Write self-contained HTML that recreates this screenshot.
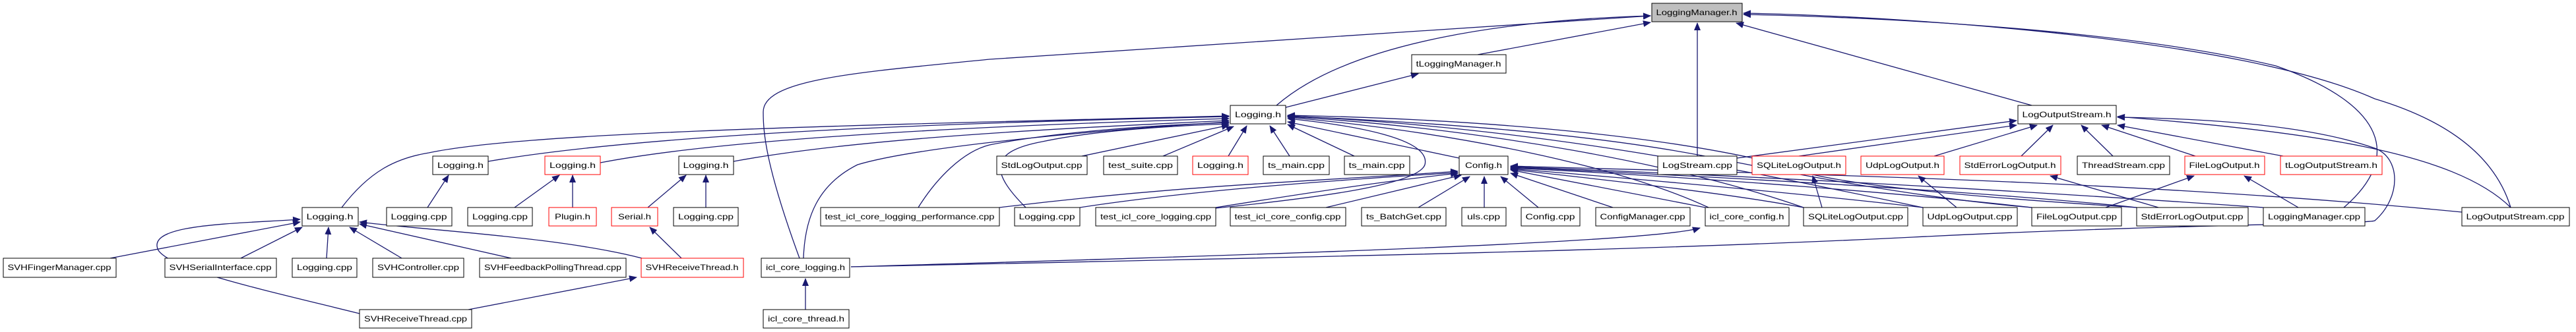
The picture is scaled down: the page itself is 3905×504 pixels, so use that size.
<!DOCTYPE html>
<html><head><meta charset="utf-8"><style>
html,body{margin:0;padding:0;background:#fff;}
svg{display:block}
text{font-family:"Liberation Sans",sans-serif;font-size:12px;text-anchor:middle}
.e{fill:none;stroke:#191970;stroke-width:1.3}
.b{fill:#fff;stroke:#000;stroke-width:1}
.r{fill:#fff;stroke:#ff0000;stroke-width:1}
</style></head><body>
<svg width="3905" height="504" viewBox="0 0 3905 504" xmlns="http://www.w3.org/2000/svg">
<defs><marker id="a" markerUnits="userSpaceOnUse" markerWidth="12" markerHeight="10" refX="11" refY="5" orient="auto"><path d="M0,0 L12,5 L0,10 z" fill="#191970"/></marker></defs>
<g class="e" marker-end="url(#a)">
<!-- to LoggingManager.h -->
<path d="M2240,83 L2502,34"/>
<path d="M1935,160 C2050,60 2300,30 2502,24"/>
<path d="M1212,392 C1160,250 1157,200 1157,170 C1157,120 1300,110 1500,90 L2502,24"/>
<path d="M3080,160 L2632,35"/>
<path d="M2573,237 L2573,35"/>
<path d="M3553,315 C3640,240 3620,160 3450,100 C3200,40 2800,25 2643,22"/>
<path d="M3806,315 C3780,230 3700,180 3600,150 C3400,60 2900,25 2643,20"/>
<!-- to tLoggingManager.h -->
<path d="M1949,163 L2150,112"/>
<!-- to LogOutputStream.h -->
<path d="M2633,240 L3057,183"/>
<path d="M2727,237 L3057,190"/>
<path d="M2932,237 L3088,190"/>
<path d="M3064,237 L3112,190"/>
<path d="M3203,237 L3155,190"/>
<path d="M3328,237 L3186,190"/>
<path d="M3461,237 L3210,190"/>
<path d="M3806,315 C3720,230 3500,200 3210,177"/>
<path d="M1290,405 C2000,390 2500,380 2900,360 C3300,340 3590,340 3600,335 C3640,300 3640,240 3600,225 C3500,190 3350,180 3210,178"/>
<!-- to Logging.h main -->
<path d="M518,315 C560,260 600,240 650,232 C800,200 1300,190 1863,176"/>
<path d="M740,245 C1000,200 1500,185 1863,177"/>
<path d="M910,247 C1100,210 1500,190 1863,180"/>
<path d="M1112,245 C1300,210 1600,195 1863,183"/>
<path d="M1218,392 C1220,330 1240,280 1300,250 C1400,220 1700,195 1863,185"/>
<path d="M1392,315 C1420,270 1460,230 1500,220 C1600,200 1750,190 1863,186"/>
<path d="M1555,315 C1500,260 1500,230 1580,215 C1650,200 1750,192 1863,188"/>
<path d="M1640,237 L1863,190"/>
<path d="M1763,237 L1870,192"/>
<path d="M1862,237 L1890,191"/>
<path d="M1955,237 L1925,191"/>
<path d="M2053,237 L1952,189"/>
<path d="M2212,240 L1952,185"/>
<path d="M1843,316 C2000,300 2150,280 2160,250 C2170,210 2050,190 1952,180"/>
<path d="M2590,315 C2450,250 2200,200 1952,178"/>
<path d="M2734,315 C2550,250 2250,195 1952,177"/>
<path d="M2915,315 C2650,260 2350,195 1952,176"/>
<path d="M3080,315 C2900,300 2700,260 2600,240 C2400,200 2150,185 1952,176"/>
<path d="M3239,315 C3000,300 2760,280 2700,250 C2500,200 2200,180 1952,175"/>
<!-- to Config.h -->
<path d="M1515,315 C1800,280 2000,275 2210,260"/>
<path d="M1637,315 C1800,290 2000,275 2210,262"/>
<path d="M1843,315 C2000,290 2100,275 2210,263"/>
<path d="M2010,315 L2215,266"/>
<path d="M2150,315 L2228,268"/>
<path d="M2250,315 L2250,268"/>
<path d="M2332,315 L2275,268"/>
<path d="M2445,315 L2290,263"/>
<path d="M2585,315 L2290,258"/>
<path d="M2734,315 C2600,290 2400,270 2290,257"/>
<path d="M2915,315 C2700,290 2400,265 2290,256"/>
<path d="M3080,315 C2900,295 2600,270 2290,255"/>
<path d="M3239,315 C3000,290 2600,268 2290,254"/>
<path d="M3431,315 C3000,285 2600,265 2290,253"/>
<path d="M3732,322 C3200,270 2600,262 2290,252"/>
<!-- misc -->
<path d="M1290,405 C1800,390 2500,370 2577,346"/>
<path d="M1221,470 L1221,423"/>
<path d="M2762,315 L2748,267"/>
<path d="M2966,315 L2908,267"/>
<path d="M3192,315 L3326,267"/>
<path d="M3272,315 L3108,267"/>
<path d="M3484,315 L3402,267"/>
<path d="M495,392 L498,345"/>
<path d="M167,392 L455,337"/>
<path d="M365,392 L458,345"/>
<path d="M609,392 L530,345"/>
<path d="M775,392 L545,340"/>
<path d="M973,392 C850,360 650,350 545,337"/>
<path d="M545,476 C400,440 260,410 240,380 C220,340 350,340 455,333"/>
<path d="M710,470 L965,421"/>
<path d="M1033,392 L985,345"/>
<path d="M648,315 L680,266"/>
<path d="M780,315 L848,266"/>
<path d="M868,315 L868,266"/>
<path d="M982,315 L1040,266"/>
<path d="M1070,315 L1070,266"/>
</g>
<!-- nodes -->
<rect x="2504" y="5" width="137" height="28" fill="#bfbfbf" stroke="#000"/><text x="2572" y="23" textLength="123" lengthAdjust="spacingAndGlyphs">LoggingManager.h</text>
<g>
<rect class="b" x="2140" y="83" width="143" height="28"/><text x="2211" y="101" textLength="129" lengthAdjust="spacingAndGlyphs">tLoggingManager.h</text>
<rect class="b" x="1865" y="160" width="84" height="28"/><text x="1907" y="178" textLength="70" lengthAdjust="spacingAndGlyphs">Logging.h</text>
<rect class="b" x="3059" y="160" width="149" height="28"/><text x="3133" y="178" textLength="135" lengthAdjust="spacingAndGlyphs">LogOutputStream.h</text>

<rect class="b" x="656" y="237" width="84" height="28"/><text x="698" y="255" textLength="70" lengthAdjust="spacingAndGlyphs">Logging.h</text>
<rect class="r" x="826" y="237" width="84" height="28"/><text x="868" y="255" textLength="70" lengthAdjust="spacingAndGlyphs">Logging.h</text>
<rect class="b" x="1029" y="237" width="83" height="28"/><text x="1070" y="255" textLength="69" lengthAdjust="spacingAndGlyphs">Logging.h</text>
<rect class="b" x="1511" y="237" width="137" height="28"/><text x="1579" y="255" textLength="123" lengthAdjust="spacingAndGlyphs">StdLogOutput.cpp</text>
<rect class="b" x="1673" y="237" width="112" height="28"/><text x="1729" y="255" textLength="98" lengthAdjust="spacingAndGlyphs">test_suite.cpp</text>
<rect class="r" x="1808" y="237" width="84" height="28"/><text x="1850" y="255" textLength="70" lengthAdjust="spacingAndGlyphs">Logging.h</text>
<rect class="b" x="1915" y="237" width="100" height="28"/><text x="1965" y="255" textLength="86" lengthAdjust="spacingAndGlyphs">ts_main.cpp</text>
<rect class="b" x="2038" y="237" width="99" height="28"/><text x="2087" y="255" textLength="85" lengthAdjust="spacingAndGlyphs">ts_main.cpp</text>
<rect class="b" x="2212" y="237" width="74" height="28"/><text x="2249" y="255" textLength="56" lengthAdjust="spacingAndGlyphs">Config.h</text>
<rect class="b" x="2513" y="237" width="120" height="28"/><text x="2573" y="255" textLength="106" lengthAdjust="spacingAndGlyphs">LogStream.cpp</text>
<rect class="r" x="2656" y="237" width="142" height="28"/><text x="2727" y="255" textLength="128" lengthAdjust="spacingAndGlyphs">SQLiteLogOutput.h</text>
<rect class="r" x="2821" y="237" width="126" height="28"/><text x="2884" y="255" textLength="112" lengthAdjust="spacingAndGlyphs">UdpLogOutput.h</text>
<rect class="r" x="2971" y="237" width="153" height="28"/><text x="3047" y="255" textLength="139" lengthAdjust="spacingAndGlyphs">StdErrorLogOutput.h</text>
<rect class="b" x="3149" y="237" width="140" height="28"/><text x="3219" y="255" textLength="126" lengthAdjust="spacingAndGlyphs">ThreadStream.cpp</text>
<rect class="r" x="3312" y="237" width="121" height="28"/><text x="3372" y="255" textLength="107" lengthAdjust="spacingAndGlyphs">FileLogOutput.h</text>
<rect class="r" x="3457" y="237" width="154" height="28"/><text x="3534" y="255" textLength="140" lengthAdjust="spacingAndGlyphs">tLogOutputStream.h</text>

<rect class="b" x="458" y="315" width="85" height="28"/><text x="500" y="333" textLength="71" lengthAdjust="spacingAndGlyphs">Logging.h</text>
<rect class="b" x="586" y="315" width="99" height="28"/><text x="635" y="333" textLength="85" lengthAdjust="spacingAndGlyphs">Logging.cpp</text>
<rect class="b" x="709" y="315" width="98" height="28"/><text x="758" y="333" textLength="84" lengthAdjust="spacingAndGlyphs">Logging.cpp</text>
<rect class="r" x="832" y="315" width="72" height="28"/><text x="868" y="333" textLength="54" lengthAdjust="spacingAndGlyphs">Plugin.h</text>
<rect class="r" x="927" y="315" width="70" height="28"/><text x="962" y="333" textLength="50" lengthAdjust="spacingAndGlyphs">Serial.h</text>
<rect class="b" x="1021" y="315" width="98" height="28"/><text x="1070" y="333" textLength="84" lengthAdjust="spacingAndGlyphs">Logging.cpp</text>
<rect class="b" x="1244" y="315" width="271" height="28"/><text x="1379" y="333" textLength="257" lengthAdjust="spacingAndGlyphs">test_icl_core_logging_performance.cpp</text>
<rect class="b" x="1538" y="315" width="99" height="28"/><text x="1587" y="333" textLength="85" lengthAdjust="spacingAndGlyphs">Logging.cpp</text>
<rect class="b" x="1661" y="315" width="182" height="28"/><text x="1752" y="333" textLength="168" lengthAdjust="spacingAndGlyphs">test_icl_core_logging.cpp</text>
<rect class="b" x="1865" y="315" width="175" height="28"/><text x="1952" y="333" textLength="161" lengthAdjust="spacingAndGlyphs">test_icl_core_config.cpp</text>
<rect class="b" x="2064" y="315" width="128" height="28"/><text x="2128" y="333" textLength="114" lengthAdjust="spacingAndGlyphs">ts_BatchGet.cpp</text>
<rect class="b" x="2216" y="315" width="67" height="28"/><text x="2249" y="333" textLength="50" lengthAdjust="spacingAndGlyphs">uls.cpp</text>
<rect class="b" x="2306" y="315" width="89" height="28"/><text x="2350" y="333" textLength="75" lengthAdjust="spacingAndGlyphs">Config.cpp</text>
<rect class="b" x="2419" y="315" width="143" height="28"/><text x="2490" y="333" textLength="129" lengthAdjust="spacingAndGlyphs">ConfigManager.cpp</text>
<rect class="b" x="2585" y="315" width="127" height="28"/><text x="2648" y="333" textLength="113" lengthAdjust="spacingAndGlyphs">icl_core_config.h</text>
<rect class="b" x="2734" y="315" width="158" height="28"/><text x="2813" y="333" textLength="144" lengthAdjust="spacingAndGlyphs">SQLiteLogOutput.cpp</text>
<rect class="b" x="2915" y="315" width="143" height="28"/><text x="2986" y="333" textLength="129" lengthAdjust="spacingAndGlyphs">UdpLogOutput.cpp</text>
<rect class="b" x="3080" y="315" width="136" height="28"/><text x="3148" y="333" textLength="122" lengthAdjust="spacingAndGlyphs">FileLogOutput.cpp</text>
<rect class="b" x="3239" y="315" width="169" height="28"/><text x="3323" y="333" textLength="155" lengthAdjust="spacingAndGlyphs">StdErrorLogOutput.cpp</text>
<rect class="b" x="3431" y="315" width="154" height="28"/><text x="3508" y="333" textLength="140" lengthAdjust="spacingAndGlyphs">LoggingManager.cpp</text>
<rect class="b" x="3732" y="315" width="163" height="28"/><text x="3813" y="333" textLength="149" lengthAdjust="spacingAndGlyphs">LogOutputStream.cpp</text>

<rect class="b" x="5" y="392" width="171" height="29"/><text x="90" y="410" textLength="157" lengthAdjust="spacingAndGlyphs">SVHFingerManager.cpp</text>
<rect class="b" x="250" y="392" width="169" height="29"/><text x="334" y="410" textLength="155" lengthAdjust="spacingAndGlyphs">SVHSerialInterface.cpp</text>
<rect class="b" x="443" y="392" width="98" height="29"/><text x="492" y="410" textLength="84" lengthAdjust="spacingAndGlyphs">Logging.cpp</text>
<rect class="b" x="565" y="392" width="138" height="29"/><text x="634" y="410" textLength="124" lengthAdjust="spacingAndGlyphs">SVHController.cpp</text>
<rect class="b" x="727" y="392" width="222" height="29"/><text x="838" y="410" textLength="208" lengthAdjust="spacingAndGlyphs">SVHFeedbackPollingThread.cpp</text>
<rect class="r" x="972" y="392" width="155" height="29"/><text x="1049" y="410" textLength="141" lengthAdjust="spacingAndGlyphs">SVHReceiveThread.h</text>
<rect class="b" x="1154" y="392" width="134" height="29"/><text x="1221" y="410" textLength="120" lengthAdjust="spacingAndGlyphs">icl_core_logging.h</text>
<rect class="b" x="545" y="470" width="170" height="28"/><text x="630" y="488" textLength="156" lengthAdjust="spacingAndGlyphs">SVHReceiveThread.cpp</text>
<rect class="b" x="1157" y="470" width="130" height="28"/><text x="1222" y="488" textLength="116" lengthAdjust="spacingAndGlyphs">icl_core_thread.h</text>
</g>
</svg>
</body></html>
